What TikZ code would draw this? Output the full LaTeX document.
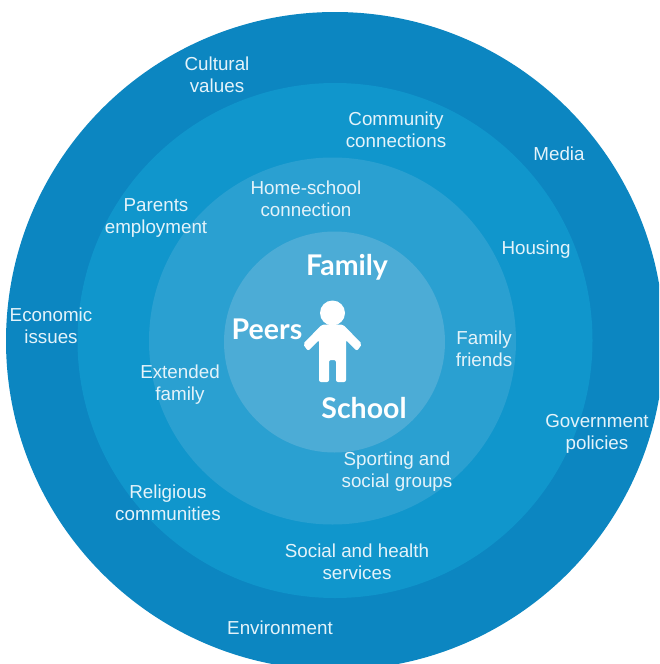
\documentclass[tikz,border=0pt]{standalone}
\usepackage{fontspec}
\setmainfont{Liberation Sans}
\newfontfamily\boldlabel{Lato}[UprightFont=* Bold]
\definecolor{ringA}{HTML}{0C86C1}
\definecolor{ringB}{HTML}{1096CC}
\definecolor{ringC}{HTML}{2AA0D1}
\definecolor{ringD}{HTML}{4CACD6}
\definecolor{labtext}{HTML}{E4F3FA}
\tikzset{
  x=1pt,y=-1pt,
  lab/.style={text=labtext,font=\fontsize{18.8}{22}\selectfont,align=center,inner sep=0pt},
  big/.style={text=white,font=\boldlabel\fontsize{28.5}{30}\selectfont,inner sep=0pt},
  person/.style={fill=white,draw=none}
}
\begin{document}
\begin{tikzpicture}
\useasboundingbox (0,0) rectangle (659,664);
\fill[white] (0,0) rectangle (659,664);
\begin{scope}
\clip (0,0) rectangle (659,664);
\fill[ringA] (335,341) circle[radius=329];
\fill[ringB] (335,340.5) circle[radius=257.5];
\fill[ringC] (332.5,341) circle[radius=183.5];
\fill[ringD] (334.5,342) circle[radius=110.5];
\end{scope}
% person
\fill[person] (332.5,313) circle[radius=12.5];
\fill[person,rounded corners=2] (319,382) -- (319,340) -- (308,351) -- (303,344) -- (322,324.5) -- (343,324.5) -- (362,344) -- (357,351) -- (346,340) -- (346,382) -- (336,382) -- (336,360) -- (329,360) -- (329,382) -- cycle;
\node[big] (family) at (347,267) {Family};
\node[big] (peers) at (267,329) {Peers};
\node[big] (school) at (364,408) {School};
\node[lab] (cultural) at (217,75) {Cultural\\values};
\node[lab] (community) at (396,130) {Community\\connections};
\node[lab] (media) at (559,154) {Media};
\node[lab] (home) at (306,199) {Home-school\\connection};
\node[lab] (parents) at (156,218) {Parents\\employment};
\node[lab] (housing) at (536,250) {Housing};
\node[lab] (economic) at (51,326) {Economic\\issues};
\node[lab] (friends) at (484,349) {Family\\friends};
\node[lab] (extended) at (180,385) {Extended\\family};
\node[lab] (government) at (597,434) {Government\\policies};
\node[lab] (sporting) at (397,472) {Sporting and\\social groups};
\node[lab] (religious) at (168,503) {Religious\\communities};
\node[lab] (services) at (357,562) {Social and health\\services};
\node[lab] (environment) at (280,628) {Environment};
\end{tikzpicture}
\end{document}
